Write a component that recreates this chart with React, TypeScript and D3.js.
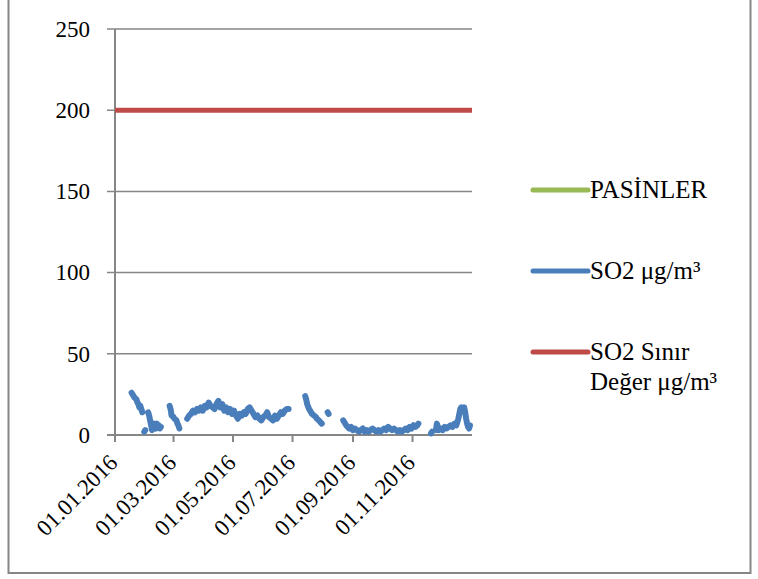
import React from "react";
import * as d3 from "d3";

// ---- data ----
const yTicks = [0, 50, 100, 150, 200, 250];
const xTickLabels = ["01.01.2016", "01.03.2016", "01.05.2016", "01.07.2016", "01.09.2016", "01.11.2016"];
const legendLabels = ["PASİNLER", "SO2 μg/m³", "SO2 Sınır|Değer μg/m³"];
const limitValue = 200;
// day of year (0 = 01.01.2016); null value = gap
const so2Days = [
  17, 18, 19, 20, 22, 23, 24, 25, 26, 27, 28, 29,
  30, 31, 32,
  34, 35, 36, 37, 38, 39, 40, 41, 42, 43, 44, 45, 46, 47, 48,
  56, 57, 58, 60, 61, 63, 64, 65, 66, 67,
  74, 76, 78, 80, 82, 84, 86, 88, 90, 92, 94, 96, 98, 100, 102, 104, 106, 108, 110, 112, 114, 116, 118, 120,
  122, 124, 126, 128, 130, 132, 134, 136, 138, 140, 142, 144, 146, 148, 150, 152, 154, 156, 158, 160, 162,
  164, 166, 168, 170, 172, 174, 176, 178, 179,
  195, 196, 197, 199, 200, 202, 204, 206, 207, 209, 212, 213,
  218, 219, 220,
  234, 235, 237, 240, 242, 244, 246, 248, 250, 252, 254, 256, 258, 260, 262, 264, 266, 268, 270, 272, 274,
  276, 278, 280, 282, 284, 286, 288, 290, 292, 294, 296, 298, 300, 302, 304, 306, 308, 310, 311, 312,
  324, 325, 326,
  329, 330, 331, 332, 334, 336, 338, 340, 342, 344, 346, 348, 350, 352, 353, 354, 355, 356, 357, 358, 359,
  360, 361, 362, 363, 364,
];
const so2Values: (number | null)[] = [
  26, 25, 24, 23, 22, 20, 19, 17, 18, 16, 14, null,
  2, 3, null,
  14, 12, 9, 6, 3, 6, 7, 5, 4, 7, 5, 6, 4, 5, null,
  18, 16, 12, 11, 10, 9, 7, 6, 4, null,
  10, 12, 13, 15, 14, 16, 15, 17, 15, 18, 17, 20, 18, 17, 16, 19, 21, 17, 19, 15, 17, 14, 16, 13,
  15, 12, 10, 13, 12, 14, 13, 16, 17, 15, 13, 11, 12, 10, 9, 11, 12, 14, 11, 10, 9,
  12, 10, 12, 14, 13, 15, 16, 16, null,
  24, 22, 19, 16, 15, 13, 12, 11, 10, 9, 7, null,
  14, 13, null,
  9, 8, 6, 4, 5, 3, 4, 3, 2, 3, 4, 2, 3, 2, 3, 4, 3, 2, 3, 2, 3,
  4, 3, 5, 4, 3, 4, 3, 2, 3, 2, 3, 4, 3, 5, 4, 6, 5, 6, 7, null,
  1, 2, null,
  3, 7, 5, 3, 4, 3, 5, 4, 5, 6, 5, 7, 6, 10, 13, 16, 17, 16, 15, 17, 14,
  10, 7, 5, 4, 6,
];

const W = 758;
const H = 579;
const M = { left: 115, right: 472, top: 29, bottom: 435 };
const AXIS = "#868686";
const BLUE = "#4a7ebb";
const RED = "#be4b48";
const GREEN = "#98b954";
const FONT = "'Liberation Serif', 'DejaVu Serif', serif";

const start = new Date(2016, 0, 1);
const end = new Date(2017, 0, 1);

function parseLabel(s: string) {
  const [d, m, y] = s.split(".").map(Number);
  return new Date(y, m - 1, d);
}

export default function App() {
  const x = d3.scaleTime().domain([start, end]).range([M.left, M.right]);
  const y = d3.scaleLinear().domain([0, 250]).range([M.bottom, M.top]);

  const pts = so2Days.map((d, i) => ({ date: d3.timeDay.offset(start, d), v: so2Values[i] }));
  const line = d3
    .line<{ date: Date; v: number | null }>()
    .defined((p) => p.v !== null)
    .x((p) => x(p.date))
    .y((p) => y(p.v as number));

  const limitLine = d3
    .line<Date>()
    .x((d) => x(d))
    .y(() => y(limitValue));

  const legendColors = [GREEN, BLUE, RED];
  const legendY = [190, 271, 352];

  return (
    <svg
      width={W}
      height={H}
      style={{ position: "absolute", left: 0, top: 0, background: "#fff" }}
      fontFamily={FONT}
    >
      <rect x={8.5} y={-3} width={742} height={576} fill="#fff" stroke={AXIS} strokeWidth={2} />
      {/* gridlines + y ticks */}
      {yTicks.map((t) => (
        <g key={t}>
          <line
            x1={M.left - 8}
            x2={M.right}
            y1={y(t)}
            y2={y(t)}
            stroke={AXIS}
            strokeWidth={t === 0 ? 2 : 1.5}
          />
          <text x={90} y={y(t)} dy="0.34em" textAnchor="end" fontSize={23} fill="#000">
            {t}
          </text>
        </g>
      ))}
      {/* y axis */}
      <line x1={M.left} x2={M.left} y1={M.top} y2={M.bottom} stroke={AXIS} strokeWidth={2} />
      {/* x ticks */}
      {xTickLabels.map((s) => {
        const xx = x(parseLabel(s));
        return (
          <g key={s}>
            <line x1={xx} x2={xx} y1={M.bottom} y2={M.bottom + 7} stroke={AXIS} strokeWidth={2} />
            <text
              transform={`translate(${xx + 4},${M.bottom + 29}) rotate(-45)`}
              textAnchor="end"
              fontSize={23}
              fill="#000"
            >
              {s}
            </text>
          </g>
        );
      })}
      {/* limit line */}
      <path d={limitLine([start, end]) || ""} fill="none" stroke={RED} strokeWidth={5} />
      {/* SO2 series */}
      <path
        d={line(pts) || ""}
        fill="none"
        stroke={BLUE}
        strokeWidth={6}
        strokeLinejoin="round"
        strokeLinecap="round"
      />
      {/* legend */}
      {legendLabels.map((lab, i) => (
        <g key={lab}>
          <line
            x1={533}
            x2={588}
            y1={legendY[i]}
            y2={legendY[i]}
            stroke={legendColors[i]}
            strokeWidth={5}
            strokeLinecap="round"
          />
          {lab.split("|").map((part, j) => (
            <text key={j} x={590} y={legendY[i] + 8 + j * 30} fontSize={25} fill="#000">
              {part}
            </text>
          ))}
        </g>
      ))}
    </svg>
  );
}
